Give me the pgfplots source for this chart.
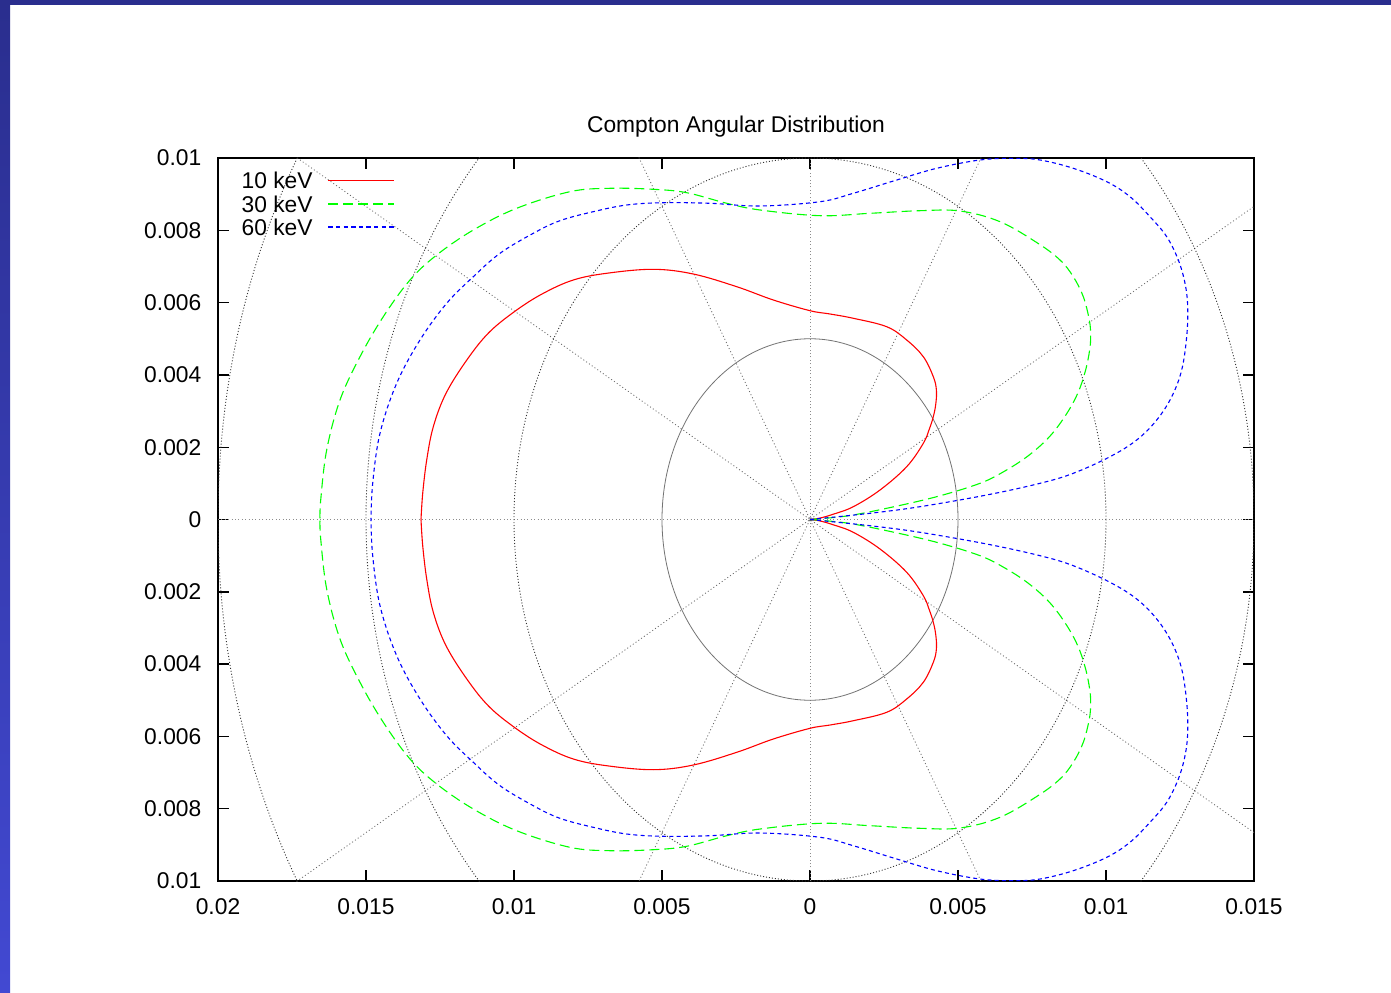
\documentclass[border=0pt]{standalone}
\usepackage{fontspec}
\setmainfont{Liberation Sans}
\usepackage{pgfplots}
\usepackage{pgfplotstable}
\pgfplotsset{compat=1.18}

\definecolor{navytop}{HTML}{2A2E8E}
\definecolor{navybot}{HTML}{4249D2}
\definecolor{kevred}{HTML}{FF0000}
\definecolor{kevgreen}{HTML}{00FF00}
\definecolor{kevblue}{HTML}{0000FF}

% upper half (theta from 0 to 180 deg) of each polar curve; the lower half is its mirror image
\pgfplotstableread{
x y
0 0
0.000338 0.000040
0.000800 0.000150
0.001463 0.000354
0.002365 0.000816
0.003267 0.001461
0.003828 0.002108
0.004030 0.002500
0.004166 0.002844
0.004250 0.003200
0.004270 0.003582
0.004166 0.003950
0.003828 0.004503
0.003267 0.004965
0.002591 0.005333
0.001463 0.005566
0.000676 0.005685
0.000000 0.005776
-0.001240 0.006072
-0.002476 0.006440
-0.003943 0.006791
-0.005294 0.006921
-0.006868 0.006811
-0.007997 0.006625
-0.009010 0.006257
-0.009909 0.005795
-0.010828 0.005187
-0.011570 0.004440
-0.012297 0.003491
-0.012726 0.002567
-0.012949 0.001646
-0.013084 0.000725
-0.013142 0
}\tenkev

\pgfplotstableread{
x y
0 0
0.001240 0.000097
0.002591 0.000310
0.004280 0.000631
0.005743 0.001001
0.006600 0.001350
0.007400 0.001780
0.008100 0.002300
0.008650 0.002900
0.009050 0.003500
0.009300 0.004100
0.009450 0.004700
0.009480 0.005100
0.009436 0.005519
0.009233 0.006163
0.008895 0.006716
0.008446 0.007178
0.007700 0.007640
0.006419 0.008238
0.005068 0.008534
0.003716 0.008542
0.002027 0.008470
0.000338 0.008404
-0.001689 0.008562
-0.002814 0.008747
-0.004166 0.009040
-0.005294 0.009134
-0.006757 0.009162
-0.008108 0.009068
-0.009909 0.008609
-0.011375 0.008008
-0.012611 0.007317
-0.013514 0.006625
-0.014416 0.005610
-0.015203 0.004503
-0.015878 0.003306
-0.016328 0.001923
-0.016530 0.000539
-0.016554 0
}\thirtykev

\pgfplotstableread{
x y
0 0
0.002027 0.000172
0.003716 0.000354
0.005970 0.000678
0.007770 0.001001
0.008895 0.001278
0.010135 0.001737
0.011037 0.002199
0.011713 0.002752
0.012220 0.003397
0.012557 0.004136
0.012726 0.005057
0.012760 0.005887
0.012669 0.006534
0.012443 0.007178
0.012051 0.007823
0.011486 0.008376
0.010811 0.008929
0.010024 0.009345
0.008895 0.009715
0.007770 0.009945
0.006900 0.009990
0.005743 0.009945
0.004280 0.009715
0.002929 0.009391
0.001463 0.009024
0.000338 0.008791
-0.001689 0.008672
-0.003378 0.008747
-0.004956 0.008763
-0.006193 0.008700
-0.007321 0.008515
-0.008446 0.008266
-0.009348 0.007917
-0.010473 0.007364
-0.011375 0.006716
-0.012274 0.005981
-0.013176 0.004965
-0.013963 0.003768
-0.014527 0.002385
-0.014774 0.001001
-0.014831 0
}\sixtykev

\newcommand{\lbl}{\fontsize{11.4}{13.7}\selectfont}

\begin{document}
\begin{tikzpicture}
% slide background
\fill[white] (0pt,0pt) rectangle (695.5pt,496pt);
\shade[top color=navytop, bottom color=navybot] (0pt,0pt) rectangle (5pt,496pt);
\fill[navytop] (0pt,493.5pt) rectangle (695.5pt,496pt);

\begin{axis}[
  at={(109pt,55.5pt)}, anchor=south west,
  scale only axis, width=518pt, height=361.5pt,
  xmin=-0.02, xmax=0.015, ymin=-0.01, ymax=0.01,
  scaled ticks=false,
  xtick={-0.02,-0.015,-0.01,-0.005,0,0.005,0.01,0.015},
  xticklabels={0.02,0.015,0.01,0.005,0,0.005,0.01,0.015},
  ytick={-0.01,-0.008,-0.006,-0.004,-0.002,0,0.002,0.004,0.006,0.008,0.01},
  yticklabels={0.01,0.008,0.006,0.004,0.002,0,0.002,0.004,0.006,0.008,0.01},
  xtick pos=both, ytick pos=both,
  xticklabel pos=lower, yticklabel pos=left,
  tick align=inside, major tick length=5.5pt,
  tick style={black, line width=0.7pt},
  axis line style={black, line width=0.9pt},
  xticklabel style={anchor=base, yshift=-16.5pt, inner sep=0pt, font=\lbl},
  yticklabel style={anchor=east, xshift=-8.15pt, inner sep=0pt, font=\lbl},
  title={Compton Angular Distribution},
  title style={at={(0.5,1)}, anchor=base, yshift=6.5pt, inner sep=0pt, font=\lbl},
  legend plot pos=right,
  legend cell align=right,
  legend style={at={(0.1715,0.9809)}, anchor=north east, draw=none, fill=none,
    inner sep=0pt, row sep=3.55pt, column sep=7.5pt,
    nodes={inner sep=0pt, text height=8.2pt, text depth=0pt, font=\lbl}},
  curve/.style={line width=0.55pt, smooth, tension=0.6},
]
% polar grid: zero axes and radial spokes every 30 degrees
\draw[black!45, line width=0.4pt, dash pattern=on 0.5pt off 1.2pt]
  (axis cs:-0.02,0) -- (axis cs:0.015,0)
  (axis cs:0,-0.01) -- (axis cs:0,0.01);
\draw[black!60, line width=0.4pt, dash pattern=on 0.5pt off 1.2pt]
  (axis cs:-0.02598,-0.015) -- (axis cs:0.02598,0.015)
  (axis cs:-0.015,-0.02598) -- (axis cs:0.015,0.02598)
  (axis cs:0.015,-0.02598) -- (axis cs:-0.015,0.02598)
  (axis cs:0.02598,-0.015) -- (axis cs:-0.02598,0.015);
% polar grid: circles of constant radius
\draw[black!55, line width=0.4pt]
  (axis cs:0,0) ellipse [x radius=0.005, y radius=0.005];
\draw[black!80, line width=0.45pt, dash pattern=on 0.5pt off 1pt]
  (axis cs:0,0) ellipse [x radius=0.01, y radius=0.01]
  (axis cs:0,0) ellipse [x radius=0.015, y radius=0.015]
  (axis cs:0,0) ellipse [x radius=0.02, y radius=0.02];

% legend samples
\addlegendimage{legend image code/.code={\draw[draw=kevred, line width=0.6pt] (0pt,0pt) -- (33pt,0pt);}}
\addlegendentry{10 keV}
\addlegendimage{legend image code/.code={\draw[draw=kevgreen, line width=0.6pt, dash pattern=on 5pt off 2.5pt] (0pt,0pt) -- (33pt,0pt);}}
\addlegendentry{30 keV}
\addlegendimage{legend image code/.code={\draw[draw=kevblue, line width=0.85pt, dash pattern=on 2.2pt off 1.6pt] (0pt,0.2pt) -- (33pt,0.2pt);}}
\addlegendentry{60 keV}

% 10 keV
\addplot[color=kevred, curve, forget plot] table[x=x, y=y] {\tenkev};
\addplot[color=kevred, curve, forget plot] table[x=x, y expr=-\thisrow{y}] {\tenkev};
% 30 keV
\addplot[color=kevgreen, curve, dash pattern=on 5pt off 2.5pt, forget plot] table[x=x, y=y] {\thirtykev};
\addplot[color=kevgreen, curve, dash pattern=on 5pt off 2.5pt, forget plot] table[x=x, y expr=-\thisrow{y}] {\thirtykev};
% 60 keV
\addplot[color=kevblue, curve, dash pattern=on 2pt off 1.6pt, forget plot] table[x=x, y=y] {\sixtykev};
\addplot[color=kevblue, curve, dash pattern=on 2pt off 1.6pt, forget plot] table[x=x, y expr=-\thisrow{y}] {\sixtykev};
\end{axis}
\end{tikzpicture}
\end{document}
